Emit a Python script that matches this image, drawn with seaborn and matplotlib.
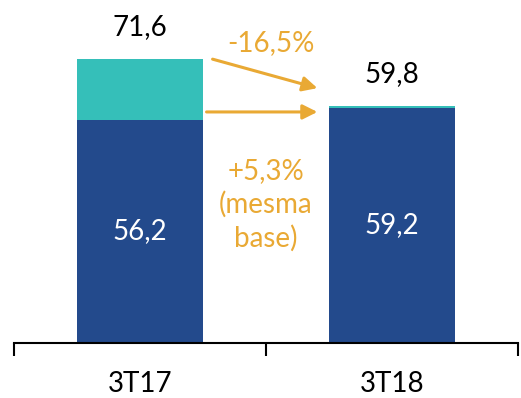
import matplotlib
matplotlib.use("Agg")
import matplotlib.pyplot as plt
import seaborn as sns
import pandas as pd

periods = ["3T17", "3T18"]
base_values = [56.2, 59.2]
total_values = [71.6, 59.8]
total_labels = ["71,6", "59,8"]
base_labels = ["56,2", "59,2"]
change_total = "-16,5%"
change_base = "+5,3%\n(mesma\nbase)"

dark_blue = "#234A8C"
teal = "#35BFB9"
orange = "#E9A934"

sns.set_theme(style="white")
plt.rcParams["font.family"] = ["Lato", "DejaVu Sans"]

df = pd.DataFrame({"period": periods, "base": base_values, "total": total_values})

fig = plt.figure(figsize=(5.21, 3.98), dpi=100)
ax = fig.add_axes([14 / 521, 55 / 398, 504 / 521, 343 / 398])

sns.barplot(data=df, x="period", y="total", color=teal, saturation=1,
            width=0.5, linewidth=0, ax=ax)
sns.barplot(data=df, x="period", y="base", color=dark_blue, saturation=1,
            width=0.5, linewidth=0, ax=ax)

ax.set_xlim(-0.5, 1.5)
ax.set_ylim(0, 86.4)
ax.set_xlabel("")
ax.set_ylabel("")
ax.set_yticks([])
for side in ["left", "right", "top"]:
    ax.spines[side].set_visible(False)
ax.spines["bottom"].set_linewidth(1.5)
ax.spines["bottom"].set_color("black")

ax.set_xticks([0, 1])
ax.set_xticklabels(periods, fontsize=20, color="black")
ax.tick_params(axis="x", which="major", bottom=True, length=0, pad=20)
ax.set_xticks([-0.5, 0.5, 1.5], minor=True)
ax.tick_params(axis="x", which="minor", bottom=True, length=9, width=1.5,
               color="black", direction="out")

for i, (tot, b) in enumerate(zip(total_values, base_values)):
    ax.text(i, tot + 8.0, total_labels[i], ha="center", va="center",
            fontsize=20, color="black")
    ax.text(i, b / 2, base_labels[i], ha="center", va="center",
            fontsize=20, color="white")

arrow_style = dict(arrowstyle="-|>", color=orange, lw=2.2, mutation_scale=22,
                   shrinkA=0, shrinkB=0)
ax.annotate("", xy=(0.704, 64.2), xytext=(0.288, 71.5), arrowprops=arrow_style)
ax.annotate("", xy=(0.704, 58.2), xytext=(0.264, 58.2), arrowprops=arrow_style)

ax.text(0.52, 75.6, change_total, ha="center", va="center", fontsize=20,
        color=orange)
ax.text(0.5, 34.8, change_base, ha="center", va="center", fontsize=20,
        color=orange, linespacing=1.32)

fig.savefig("out.png", dpi=100)
